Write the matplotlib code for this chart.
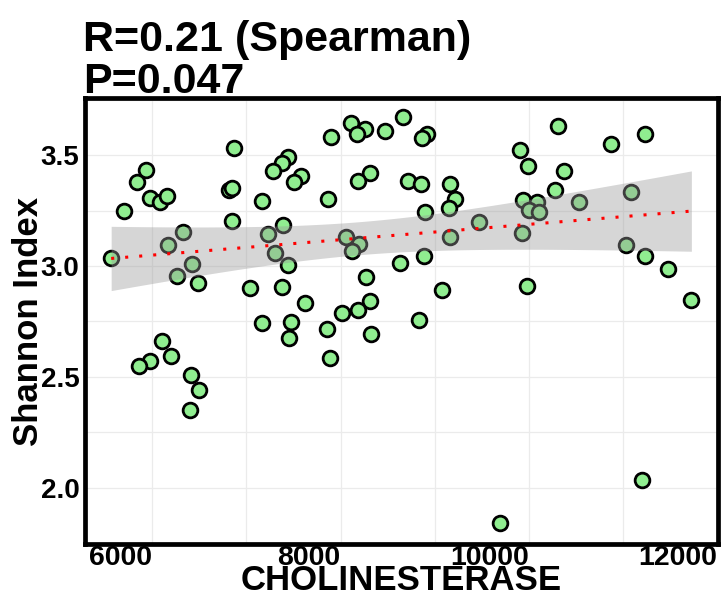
import numpy as np
import matplotlib
matplotlib.use("Agg")
import matplotlib.pyplot as plt
from matplotlib.ticker import MultipleLocator

plt.rcParams['font.family'] = ['Liberation Sans', 'DejaVu Sans']
plt.rcParams['font.weight'] = 'bold'

# values
cholinesterase = [
    6869, 7443, 7373, 7284, 7580, 7503, 5937, 5837, 6816, 6851,
    5979, 6084, 6154, 5697, 7168, 6851, 7387, 6331, 7225, 6165,
    5563, 7302, 7439, 6418, 6260, 6486, 7038, 7379, 7626, 7168,
    7478, 7457, 6106, 6201, 5971, 5858, 6415, 6499, 6404, 8667,
    8108, 8260, 8175, 8471, 7901, 8918, 8865, 8313, 8189, 8717,
    8851, 9168, 7865, 9217, 9150, 8893, 9470, 8059, 8200, 8118,
    9161, 8883, 8633, 8266, 9076, 8316, 8182, 8013, 7851, 8323,
    8830, 7890, 10312, 11234, 10868, 9907, 9995, 10375, 10283, 11090,
    9942, 10090, 10002, 10108, 10530, 9931, 11037, 11234, 11476, 9977,
    11727, 11199, 9696,
]
shannon = [
    3.531, 3.491, 3.466, 3.429, 3.406, 3.378, 3.432, 3.381, 3.343, 3.351,
    3.306, 3.290, 3.317, 3.248, 3.293, 3.203, 3.185, 3.155, 3.146, 3.095,
    3.035, 3.057, 3.005, 3.008, 2.956, 2.925, 2.902, 2.905, 2.834, 2.741,
    2.749, 2.674, 2.661, 2.594, 2.572, 2.549, 2.508, 2.440, 2.350, 3.670,
    3.644, 3.617, 3.595, 3.609, 3.581, 3.595, 3.579, 3.419, 3.384, 3.384,
    3.369, 3.369, 3.302, 3.301, 3.263, 3.245, 3.197, 3.132, 3.099, 3.068,
    3.132, 3.044, 3.015, 2.952, 2.892, 2.841, 2.801, 2.786, 2.716, 2.693,
    2.756, 2.585, 3.632, 3.595, 3.552, 3.522, 3.451, 3.428, 3.344, 3.333,
    3.298, 3.290, 3.253, 3.242, 3.290, 3.148, 3.095, 3.047, 2.988, 2.911,
    2.846, 2.034, 1.838,
]
x_ticks = [6000, 8000, 10000, 12000]
y_ticks = [2.0, 2.5, 3.0, 3.5]

x = np.array(cholinesterase, dtype=float)
y = np.array(shannon)

# linear fit with 95% confidence band (like geom_smooth(method="lm"))
n = len(x)
slope, intercept = np.polyfit(x, y, 1)
resid = y - (slope * x + intercept)
s = np.sqrt(np.sum(resid ** 2) / (n - 2))
sxx = np.sum((x - x.mean()) ** 2)
t_crit = 1.986
xs = np.linspace(x.min(), x.max(), 80)
fit = slope * xs + intercept
se = s * np.sqrt(1.0 / n + (xs - x.mean()) ** 2 / sxx)

W, H = 722, 595
fig = plt.figure(figsize=(W / 100, H / 100), dpi=100)
ax = fig.add_axes([85 / W, 1 - 544 / H, (718 - 85) / W, (544 - 98) / H])

ax.scatter(x, y, s=112, facecolor='#90EE90', edgecolor='black', linewidths=2, zorder=2)
ax.fill_between(xs, fit - t_crit * se, fit + t_crit * se, color='#999999', alpha=0.4,
                linewidth=0, zorder=3)
ax.plot(xs, fit, color='red', lw=2.2, linestyle=(0, (1, 3.6)), zorder=4)

ax.set_xlim(5285, 12010)
ax.set_ylim(1.745, 3.758)
ax.set_xticks(x_ticks)
ax.set_yticks(y_ticks)
ax.set_yticklabels([f"{v:.1f}" for v in y_ticks])
ax.xaxis.set_minor_locator(MultipleLocator(1000))
ax.yaxis.set_minor_locator(MultipleLocator(0.25))
ax.grid(True, which='both', color='#ebebeb', lw=0.9, zorder=0)
ax.set_axisbelow(True)
ax.tick_params(which='both', length=0)
ax.tick_params(axis='x', labelsize=20.5, pad=1)
ax.tick_params(axis='y', labelsize=20, pad=4)
for lab in ax.get_xticklabels():
    lab.set_horizontalalignment('right')
for sp in ax.spines.values():
    sp.set_linewidth(3.4)
    sp.set_color('black')
    sp.set_zorder(5)

ax.set_xlabel('CHOLINESTERASE', fontsize=25, fontweight='bold', labelpad=-5)
ax.set_ylabel('Shannon Index', fontsize=25, fontweight='bold', labelpad=-3)

fig.text(83 / W, 1 - 51 / H, 'R=0.21 (Spearman)', fontsize=31, fontweight='bold',
         ha='left', va='baseline')
fig.text(83 / W, 1 - 93 / H, 'P=0.047', fontsize=31, fontweight='bold',
         ha='left', va='baseline')

fig.savefig('out.png', dpi=100)
